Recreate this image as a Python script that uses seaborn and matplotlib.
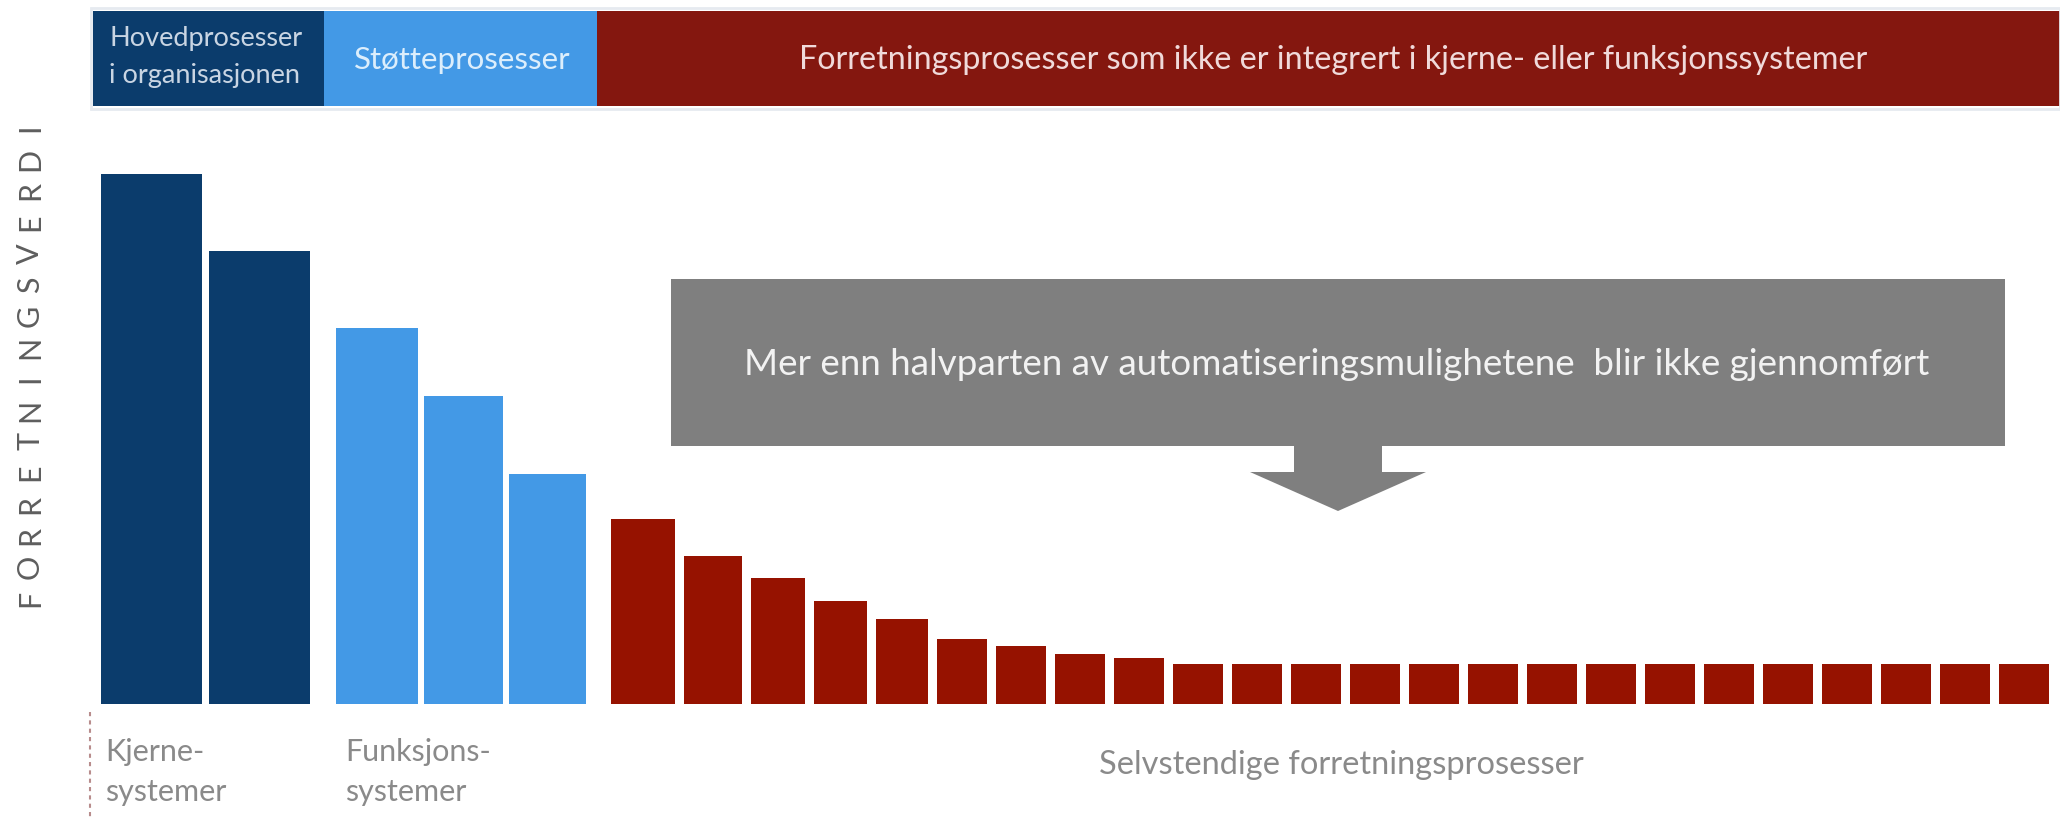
import numpy as np
import pandas as pd
import matplotlib
matplotlib.use("Agg")
import matplotlib.pyplot as plt
from matplotlib.patches import Rectangle, Polygon
import seaborn as sns

# ---------------- data ----------------
kjerne_verdi = [100.0, 85.5]
funksjon_verdi = [71.0, 58.2, 43.4]
selvstendig_verdi = [35.0, 27.9, 23.8, 19.5, 16.0, 12.3, 10.9, 9.4, 8.7,
                     7.5, 7.5, 7.5, 7.5, 7.5, 7.5, 7.5, 7.5, 7.5, 7.5,
                     7.5, 7.5, 7.5, 7.5, 7.5]
gruppe_navn = ["Kjernesystemer", "Funksjonssystemer", "Selvstendige"]

header_tekster = ["Hovedprosesser\ni organisasjonen", "Støtteprosesser",
                  "Forretningsprosesser som ikke er integrert i kjerne- eller funksjonssystemer"]
callout_tekst = "Mer enn halvparten av automatiseringsmulighetene  blir ikke gjennomført"
bunn_tekster = ["Kjerne-\nsystemer", "Funksjons-\nsystemer", "Selvstendige forretningsprosesser"]
y_tittel = "FORRETNINGSVERDI"

# ---------------- style / layout ----------------
W, H = 2060, 817
FONT = ["Lato", "DejaVu Sans"]
c_dark = "#0B3C6C"
c_light = "#4399E6"
c_red = "#961200"
c_red_head = "#84170F"
c_grey = "#7F7F7F"

PX_PER_UNIT = 5.3
BASE_ROW = 704  # pixel row (from top) of bar baseline

group_layout = [
    (100.5, [101, 101], 7),
    (336.0, [82, 79, 77], 6),
    (611.0, [64, 58, 54, 53, 52] + [50] * 19, 9),
]

centers, widths = [], []
for start, ws, gap in group_layout:
    x = start
    for w in ws:
        centers.append(x + w / 2)
        widths.append(w)
        x += w + gap

values = kjerne_verdi + funksjon_verdi + selvstendig_verdi
groups = ([gruppe_navn[0]] * len(kjerne_verdi) + [gruppe_navn[1]] * len(funksjon_verdi)
          + [gruppe_navn[2]] * len(selvstendig_verdi))
df = pd.DataFrame({"pos": centers, "verdi": values, "gruppe": groups})

sns.set_theme(style="white")
plt.rcParams["font.family"] = FONT

fig = plt.figure(figsize=(W / 100, H / 100), dpi=100)
fig.patch.set_facecolor("white")
ax = fig.add_axes([0, 0, 1, 1])
sns.barplot(data=df, x="pos", y="verdi", hue="gruppe", hue_order=gruppe_navn,
            palette={gruppe_navn[0]: c_dark, gruppe_navn[1]: c_light, gruppe_navn[2]: c_red},
            native_scale=True, dodge=False, saturation=1, linewidth=0,
            legend=False, ax=ax, errorbar=None)

# set individual bar widths from layout
bars = sorted(ax.patches, key=lambda p: p.get_x() + p.get_width() / 2)
for p, c, w in zip(bars, centers, widths):
    p.set_x(c - w / 2)
    p.set_width(w)

ax.set_xlim(0, W)
ax.set_ylim(-(H - BASE_ROW) / PX_PER_UNIT, BASE_ROW / PX_PER_UNIT)
ax.set_axis_off()

# overlay in pixel coordinates
ov = fig.add_axes([0, 0, 1, 1])
ov.set_xlim(0, W)
ov.set_ylim(H, 0)
ov.set_axis_off()
ov.patch.set_alpha(0)

# header bands
hy0, hy1 = 11, 106
ov.add_patch(Rectangle((93, hy0), 324 - 93, hy1 - hy0, color=c_dark, lw=0))
ov.add_patch(Rectangle((324, hy0), 597 - 324, hy1 - hy0, color=c_light, lw=0))
ov.add_patch(Rectangle((597, hy0), W - 597, hy1 - hy0, color=c_red_head, lw=0))
ov.add_patch(Rectangle((91, hy0 - 3), W - 91, hy1 - hy0 + 6, fill=False,
                       edgecolor="#E6EAF0", lw=2))

l1, l2 = header_tekster[0].split("\n")
ov.text(109, 38, l1, color="#C9D5E3", fontsize=19.5, ha="left", va="center")
ov.text(109, 75, l2, color="#C9D5E3", fontsize=19.5, ha="left", va="center")
ov.text(462, 60, header_tekster[1], color="#DCEEFC", fontsize=22.5, ha="center", va="center")
ov.text(1333, 60, header_tekster[2], color="#F0DADA", fontsize=23.2, ha="center", va="center")

# callout box with arrow
bx0, bx1, by0, by1 = 671, 2005, 279, 446
shaft_x0, shaft_x1, head_x0, head_x1 = 1294, 1382, 1250, 1426
head_y, tip_y = 472, 511
tip_x = (head_x0 + head_x1) / 2
poly = [(bx0, by0), (bx1, by0), (bx1, by1), (shaft_x1, by1), (shaft_x1, head_y),
        (head_x1, head_y), (tip_x, tip_y), (head_x0, head_y), (shaft_x0, head_y),
        (shaft_x0, by1), (bx0, by1)]
ov.add_patch(Polygon(poly, closed=True, color=c_grey, lw=0))
ov.text(1337, 364, callout_tekst, color="#F2F2F2", fontsize=26.5, ha="center", va="center")

# y title (letter spaced, one glyph per slot)
ty0, ty1 = 598, 128
for i, ch in enumerate(y_tittel):
    yy = ty0 + (ty1 - ty0) * i / (len(y_tittel) - 1)
    ov.text(30, yy, ch, color="#5E5E5E", fontsize=22, rotation=90,
            ha="center", va="center")

# bottom labels
k1, k2 = bunn_tekster[0].split("\n")
f1, f2 = bunn_tekster[1].split("\n")
tc = "#8A8A8A"
ov.text(105, 752, k1, color=tc, fontsize=22, ha="left", va="center")
ov.text(105, 792, k2, color=tc, fontsize=22, ha="left", va="center")
ov.text(345, 752, f1, color=tc, fontsize=22, ha="left", va="center")
ov.text(345, 792, f2, color=tc, fontsize=22, ha="left", va="center")
ov.text(1341, 765, bunn_tekster[2], color=tc, fontsize=23.5, ha="center", va="center")

# dashed vertical marker
ov.plot([90, 90], [712, H], color="#B88C8C", lw=1.5, ls=(0, (2, 2)))

fig.savefig("out.png", dpi=100)
